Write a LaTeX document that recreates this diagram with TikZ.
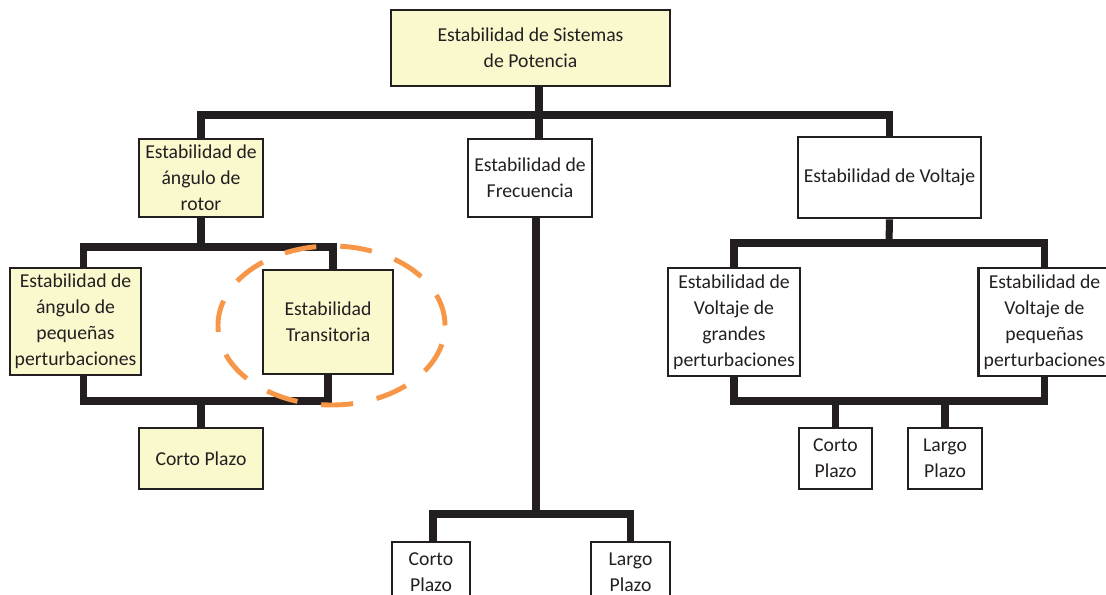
\documentclass[tikz,border=0pt]{standalone}
\usepackage{fontspec}
\setmainfont{Carlito}
\usepackage{xcolor}
\definecolor{PaleYellow}  {RGB}{250, 248, 205}
\definecolor{InkBlack}    {RGB}{35,  31,  32}
\definecolor{DashOrange}  {RGB}{247, 150,  70}
\usepackage{tikz}
\usetikzlibrary{positioning}

\begin{document}
\begin{tikzpicture}[
  x=0.025cm, y=-0.025cm,
  font=\fontsize{14}{18.5}\selectfont,
  box/.style={
    draw=InkBlack, line width=2pt, fill=white,
    inner sep=1pt, align=center, text=InkBlack
  },
  ybox/.style={box, fill=PaleYellow},
  link/.style={draw=InkBlack, line width=5pt},
  ring/.style={draw=DashOrange, line width=3.5pt, dash pattern=on 0.8cm off 0.6cm}
]
\useasboundingbox (0,0) rectangle (1106,594);
\clip (0,0) rectangle (1106,594);

% Cajas
\node[ybox, minimum width=6.975cm, minimum height=1.9cm] (top) at (530.5,48)
  {Estabilidad de Sistemas\\de Potencia};

\node[ybox, minimum width=3.1cm, minimum height=1.95cm] (rotor) at (201,178)
  {Estabilidad de\\ángulo de\\rotor};
\node[box, minimum width=3.1cm, minimum height=1.95cm] (frec) at (530,178)
  {Estabilidad de\\Frecuencia};
\node[box, minimum width=4.575cm, minimum height=2.025cm] (volt) at (889.5,177.5)
  {Estabilidad de Voltaje};

\node[ybox, minimum width=3.275cm, minimum height=2.675cm] (peq) at (75.5,321.5)
  {Estabilidad de\\ángulo de\\pequeñas\\perturbaciones};
\node[ybox, minimum width=3.25cm, minimum height=2.6cm] (trans) at (328,322)
  {Estabilidad\\Transitoria};
\node[ybox, minimum width=3.1cm, minimum height=1.525cm] (cortoA) at (201,458.5)
  {Corto Plazo};

\node[box, minimum width=3.3cm, minimum height=2.7cm] (grandes) at (734,322)
  {Estabilidad de\\Voltaje de\\grandes\\perturbaciones};
\node[box, minimum width=3.3cm, minimum height=2.7cm] (peqV) at (1044.5,322)
  {Estabilidad de\\Voltaje de\\pequeñas\\perturbaciones};
\node[box, minimum width=1.825cm, minimum height=1.525cm] (cortoV) at (835.5,458.5)
  {Corto\\Plazo};
\node[box, minimum width=1.85cm, minimum height=1.525cm] (largoV) at (945,458.5)
  {Largo\\Plazo};

\node[box, minimum width=1.95cm, minimum height=1.525cm] (cortoF) at (431,572.5)
  {Corto\\Plazo};
\node[box, minimum width=1.975cm, minimum height=1.525cm] (largoF) at (630.5,572.5)
  {Largo\\Plazo};

% Tronco principal
\coordinate (bus0) at (539,115);
\draw[link] (top.south -| bus0) -- (bus0 |- frec.north);
\draw[link] (rotor.north) |- (bus0) -| (volt.north);

% Rama del rotor
\coordinate (bus1) at (201,247);
\coordinate (bus2) at (201,401);
\draw[link] (rotor.south) -- (bus1);
\draw[link] ([xshift=0.19cm]peq.north) |- (bus1) -| ([xshift=0.125cm]trans.north);
\draw[link] ([xshift=0.19cm]peq.south) |- (bus2) -| (trans.south);
\draw[link] (bus2) -- (cortoA.north);

% Rama de frecuencia
\coordinate (bus3) at (536,514);
\draw[link] (frec.south -| bus3) -- (bus3);
\draw[link] ([xshift=0.05cm]cortoF.north) |- (bus3) -| (largoF.north);

% Rama de voltaje
\coordinate (bus4) at (889,243);
\coordinate (bus5) at (889,401);
\draw[link] (volt.south) -- (bus4);
\draw[link] (grandes.north) |- (bus4) -| (peqV.north);
\draw[link] (grandes.south) |- (bus5) -| (peqV.south);
\draw[link] (cortoV.north) |- (bus5) -| (largoV.north);

% Elipse discontinua
\draw[ring] (331.5,325.5) ellipse [x radius=2.8375cm, y radius=1.9875cm];
\end{tikzpicture}
\end{document}
